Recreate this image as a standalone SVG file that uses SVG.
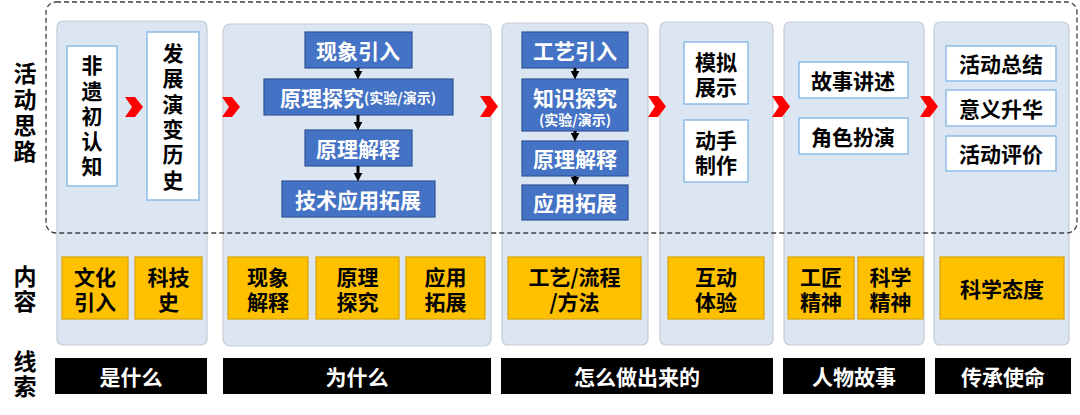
<svg xmlns="http://www.w3.org/2000/svg" width="1080" height="415" viewBox="0 0 1080 415">
<defs>
<style>
text{font-family:"Noto Sans CJK SC","Noto Sans",sans-serif;font-weight:bold;text-anchor:middle;dominant-baseline:central}
.vt{writing-mode:vertical-rl}
.panel{fill:#dce6f2;stroke:#c5cbd3;stroke-width:1.2}
.dash{fill:none;stroke:#404040;stroke-width:1.3;stroke-dasharray:5,3}
.blue{fill:#4472c4;stroke:#2f5597;stroke-width:1.2}
.bt{fill:#fff;font-size:21px}
.bs{fill:#fff;font-size:14px}
.white{fill:#fff;stroke:#8fbce6;stroke-width:1.5}
.wt{fill:#000;font-size:21px}
.org{fill:#ffc000;stroke:#dba400;stroke-width:1.2}
.ot{fill:#000;font-size:21px}
.bar{fill:#000}
.bart{fill:#fff;font-size:21px}
.lbl{fill:#000;font-size:23px}
.chev{fill:#ff0000}
.arr{stroke:#000;stroke-width:3;fill:none;marker-end:url(#ah)}
</style>
<marker id="ah" viewBox="0 0 10 10" refX="6" refY="5" markerWidth="3" markerHeight="3" orient="auto" markerUnits="strokeWidth">
<path d="M0,0 L10,5 L0,10 z" fill="#000"/>
</marker>
</defs>
<rect width="1080" height="415" fill="#fff"/>

<g id="row-labels">
<text class="lbl vt" x="25" y="114" letter-spacing="3">活动思路</text>
<text class="lbl vt" x="25" y="290" letter-spacing="2">内容</text>
<text class="lbl vt" x="25" y="375" letter-spacing="2">线索</text>
</g>

<g id="panels">
<rect id="col1" class="panel" x="57" y="21" width="150" height="324" rx="6"/>
<rect id="col2" class="panel" x="223" y="24" width="268" height="322" rx="7"/>
<rect id="col3" class="panel" x="502" y="23" width="146" height="322" rx="6"/>
<rect id="col4" class="panel" x="660" y="22" width="113" height="323" rx="6"/>
<rect id="col5" class="panel" x="784" y="22" width="140" height="323" rx="6"/>
<rect id="col6" class="panel" x="934" y="22" width="135" height="323" rx="6"/>
</g>

<g id="col1-nodes">
<g id="n-feiyi">
<rect class="white" x="67" y="46" width="50" height="140"/>
<text class="wt vt" x="92" y="118" font-size="22" letter-spacing="4.3">非遗初认知</text>
</g>
<g id="n-fazhan">
<rect class="white" x="147" y="32" width="52" height="168"/>
<text class="wt vt" x="173" y="118.5" font-size="22" letter-spacing="4.3">发展演变历史</text>
</g>
</g>

<g id="col2-nodes">
<g id="n-xianxiang"><rect class="blue" x="305" y="32" width="107" height="36"/><text class="bt" x="358" y="50">现象引入</text></g>
<g id="n-yuanli-tanjiu"><rect class="blue" x="264" y="79" width="189" height="36"/><text class="bt" x="358" y="97"><tspan>原理探究</tspan><tspan class="bs" font-size="15">(实验/演示)</tspan></text></g>
<g id="n-yuanli-jieshi"><rect class="blue" x="305" y="130" width="107" height="36"/><text class="bt" x="358" y="148">原理解释</text></g>
<g id="n-jishu"><rect class="blue" x="282" y="181" width="153" height="36"/><text class="bt" x="358" y="199">技术应用拓展</text></g>
</g>

<g id="col3-nodes">
<g id="n-gongyi"><rect class="blue" x="522" y="32" width="106" height="36"/><text class="bt" x="575" y="50">工艺引入</text></g>
<g id="n-zhishi"><rect class="blue" x="522" y="79" width="106" height="52"/><text class="bt" x="575" y="97">知识探究</text><text class="bs" x="575" y="119">(实验/演示)</text></g>
<g id="n-yuanli2"><rect class="blue" x="522" y="141" width="106" height="35"/><text class="bt" x="575" y="158">原理解释</text></g>
<g id="n-yingyong"><rect class="blue" x="522" y="185" width="106" height="35"/><text class="bt" x="575" y="202">应用拓展</text></g>
</g>

<g id="col4-nodes">
<g id="n-moni"><rect class="white" x="684" y="42" width="64" height="62"/><text class="wt"><tspan x="716" y="61">模拟</tspan><tspan x="716" y="86">展示</tspan></text></g>
<g id="n-dongshou"><rect class="white" x="684" y="120" width="64" height="62"/><text class="wt"><tspan x="716" y="139">动手</tspan><tspan x="716" y="164">制作</tspan></text></g>
</g>

<g id="col5-nodes">
<g id="n-gushi"><rect class="white" x="799" y="62" width="109" height="36"/><text class="wt" x="853" y="80">故事讲述</text></g>
<g id="n-juese"><rect class="white" x="799" y="118" width="109" height="36"/><text class="wt" x="853" y="136">角色扮演</text></g>
</g>

<g id="col6-nodes">
<g id="n-zongjie"><rect class="white" x="946" y="46" width="110" height="35"/><text class="wt" x="1001" y="63">活动总结</text></g>
<g id="n-yiyi"><rect class="white" x="946" y="90" width="110" height="36"/><text class="wt" x="1001" y="108">意义升华</text></g>
<g id="n-pingjia"><rect class="white" x="946" y="136" width="110" height="35"/><text class="wt" x="1001" y="153">活动评价</text></g>
</g>

<g id="connectors">
<polygon class="chev" points="125,97 135,97 143,107 135,117 125,117 132,107"/>
<polygon class="chev" points="222,97 232,97 240,107 232,117 222,117 229,107"/>
<polygon class="chev" points="480,96 490,96 498,106.5 490,117 480,117 487,106.5"/>
<polygon class="chev" points="648,96 658,96 666,106.5 658,117 648,117 655,106.5"/>
<polygon class="chev" points="772,96 782,96 790,106.5 782,117 772,117 779,106.5"/>
<polygon class="chev" points="920,96 930,96 938,106.5 930,117 920,117 927,106.5"/>
<line class="arr" x1="358" y1="68" x2="358" y2="76"/>
<line class="arr" x1="358" y1="115" x2="358" y2="127"/>
<line class="arr" x1="358" y1="166" x2="358" y2="178"/>
<line class="arr" x1="575" y1="68" x2="575" y2="76"/>
<line class="arr" x1="575" y1="131" x2="575" y2="138"/>
<line class="arr" x1="575" y1="176" x2="575" y2="182"/>
</g>

<rect id="frame" class="dash" x="46" y="2" width="1031" height="231" rx="10"/>

<g id="content">
<g id="o1"><rect class="org" x="62" y="257" width="66" height="62"/><text class="ot"><tspan x="95" y="276">文化</tspan><tspan x="95" y="301">引入</tspan></text></g>
<g id="o2"><rect class="org" x="135" y="257" width="67" height="62"/><text class="ot"><tspan x="168.5" y="276">科技</tspan><tspan x="168.5" y="301">史</tspan></text></g>
<g id="o3"><rect class="org" x="228" y="257" width="80" height="62"/><text class="ot"><tspan x="268" y="276">现象</tspan><tspan x="268" y="301">解释</tspan></text></g>
<g id="o4"><rect class="org" x="316" y="257" width="83" height="62"/><text class="ot"><tspan x="357.5" y="276">原理</tspan><tspan x="357.5" y="301">探究</tspan></text></g>
<g id="o5"><rect class="org" x="406" y="257" width="79" height="62"/><text class="ot"><tspan x="445.5" y="276">应用</tspan><tspan x="445.5" y="301">拓展</tspan></text></g>
<g id="o6"><rect class="org" x="508" y="257" width="133" height="62"/><text class="ot"><tspan x="574.5" y="276">工艺/流程</tspan><tspan x="574.5" y="301">/方法</tspan></text></g>
<g id="o7"><rect class="org" x="668" y="257" width="96" height="62"/><text class="ot"><tspan x="716" y="276">互动</tspan><tspan x="716" y="301">体验</tspan></text></g>
<g id="o8"><rect class="org" x="788" y="257" width="66" height="62"/><text class="ot"><tspan x="821" y="276">工匠</tspan><tspan x="821" y="301">精神</tspan></text></g>
<g id="o9"><rect class="org" x="858" y="257" width="65" height="62"/><text class="ot"><tspan x="890.5" y="276">科学</tspan><tspan x="890.5" y="301">精神</tspan></text></g>
<g id="o10"><rect class="org" x="940" y="257" width="124" height="62"/><text class="ot" x="1002" y="288">科学态度</text></g>
</g>

<g id="clues">
<g id="b1"><rect class="bar" x="55" y="358" width="152" height="36"/><text class="bart" x="131" y="376">是什么</text></g>
<g id="b2"><rect class="bar" x="223" y="358" width="268" height="36"/><text class="bart" x="357" y="376">为什么</text></g>
<g id="b3"><rect class="bar" x="501" y="358" width="272" height="36"/><text class="bart" x="637" y="376">怎么做出来的</text></g>
<g id="b4"><rect class="bar" x="783" y="358" width="142" height="36"/><text class="bart" x="854" y="376">人物故事</text></g>
<g id="b5"><rect class="bar" x="935" y="358" width="136" height="36"/><text class="bart" x="1003" y="376">传承使命</text></g>
</g>
</svg>
